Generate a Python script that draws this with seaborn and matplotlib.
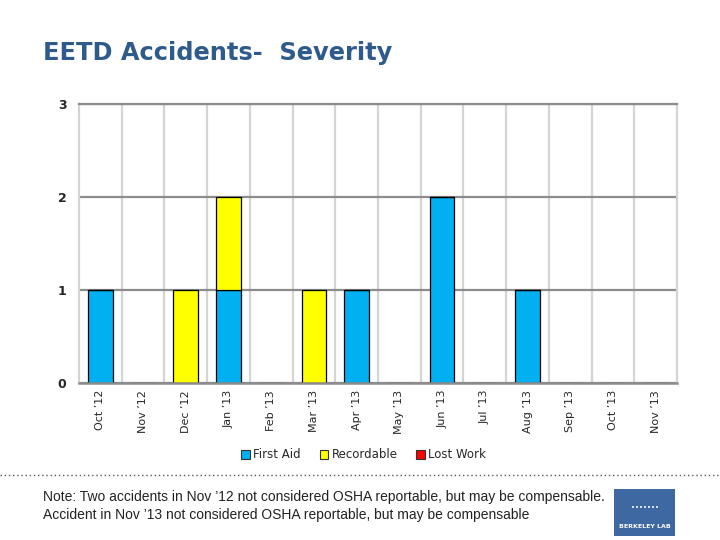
#!/usr/bin/env python3
"""EETD accidents by severity, Oct '12 - Nov '13."""

import numpy as np
import pandas as pd
import matplotlib
matplotlib.use("Agg")
import matplotlib.pyplot as plt
from matplotlib.patches import Patch, Rectangle
from matplotlib.lines import Line2D
import seaborn as sns


months = ["Oct '12", "Nov '12", "Dec '12", "Jan '13", "Feb '13", "Mar '13", "Apr '13",
          "May '13", "Jun '13", "Jul '13", "Aug '13", "Sep '13", "Oct '13", "Nov '13"]
first_aid = [1, 0, 0, 1, 0, 0, 1, 0, 2, 0, 1, 0, 0, 0]
recordable = [0, 0, 1, 1, 0, 1, 0, 0, 0, 0, 0, 0, 0, 0]
lost_work = [0, 0, 0, 0, 0, 0, 0, 0, 0, 0, 0, 0, 0, 0]
series_names = ["First Aid", "Recordable", "Lost Work"]
series_colors = ["#00B0F0", "#FFFF00", "#FF0000"]

note_lines = [
    "Note: Two accidents in Nov \u201912 not considered OSHA reportable, but may be compensable.",
    "Accident in Nov \u201913 not considered OSHA reportable, but may be compensable",
]

sns.set_style("white")

fig = plt.figure(figsize=(7.2, 5.4), dpi=100)
ax = fig.add_axes([0.1097, 0.2907, 0.8306, 0.5167])

df = pd.DataFrame({"month": months, "fa": first_aid, "rec": recordable, "lw": lost_work})
bottom_rec = np.array(first_aid, dtype=float)

bar_kw = dict(order=months, width=0.58, edgecolor="black", linewidth=0.9, errorbar=None, ax=ax)
sns.barplot(data=df, x="month", y="fa", color=series_colors[0], saturation=1, **bar_kw)
sns.barplot(data=df, x="month", y="rec", color=series_colors[1], saturation=1,
            bottom=bottom_rec, **bar_kw)

ax.set_xlim(-0.5, len(months) - 0.5)
ax.set_ylim(0, 3)
ax.set_yticks([0, 1, 2, 3])
ax.set_xticks(np.arange(len(months)))
ax.set_xticklabels([m.replace("'", "\u2019") for m in months], rotation=90, fontsize=8)
ax.set_xticks(np.arange(len(months) - 1) + 0.5, minor=True)
ax.tick_params(axis="both", which="both", length=0)
ax.tick_params(axis="x", pad=5)
ax.tick_params(axis="y", pad=9)
for lab in ax.get_yticklabels():
    lab.set_fontweight("bold")
    lab.set_fontsize(9)
ax.set_xlabel("")
ax.set_ylabel("")

ax.set_axisbelow(True)
ax.yaxis.grid(True, color="#8c8c8c", linewidth=1.6)
ax.xaxis.grid(True, which="minor", color="#d4d4d4", linewidth=1.6)
ax.xaxis.grid(False, which="major")
for side in ["left", "right"]:
    ax.spines[side].set_color("#d4d4d4")
    ax.spines[side].set_linewidth(1.6)
ax.spines["top"].set_color("#8c8c8c")
ax.spines["top"].set_linewidth(1.6)
ax.spines["bottom"].set_color("#8c8c8c")
ax.spines["bottom"].set_linewidth(1.8)
ax.spines["bottom"].set_zorder(5)

handles = [Patch(facecolor=c, edgecolor="#333333", linewidth=0.8, label=n)
           for n, c in zip(series_names, series_colors)]
fig.legend(handles=handles, loc="center", bbox_to_anchor=(0.505, 1 - 455 / 540), ncol=3,
           frameon=False, fontsize=8.5, handlelength=0.7, handleheight=0.7,
           handletextpad=0.3, columnspacing=1.6)

fig.text(43 / 720, 1 - 53 / 540, "EETD Accidents-  Severity", fontsize=17.4, fontweight="bold",
         color="#2E5A8C", va="center", ha="left")

fig.add_artist(Line2D([0, 1], [1 - 475 / 540] * 2, transform=fig.transFigure,
                      color="#555555", linestyle=(0, (1, 2)), linewidth=1))

for i, line in enumerate(note_lines):
    fig.text(43 / 720, 1 - (497 + 18 * i) / 540, line, fontsize=10,
             family="Liberation Sans", color="#222222", va="center", ha="left")

# logo box
fig.add_artist(Rectangle((614 / 720, 1 - 536 / 540), 61 / 720, 47 / 540,
                         transform=fig.transFigure, facecolor="#3D68A2", edgecolor="none"))
fig.text(644.5 / 720, 1 - 527 / 540, "BERKELEY LAB", fontsize=4.5, fontweight="bold",
         color="white", ha="center", va="center")
fig.text(644.5 / 720, 1 - 508 / 540, "\u2022\u2022\u2022\u2022\u2022\u2022\u2022", fontsize=5,
         color="white", ha="center", va="center")

fig.savefig("out.png", dpi=100)
